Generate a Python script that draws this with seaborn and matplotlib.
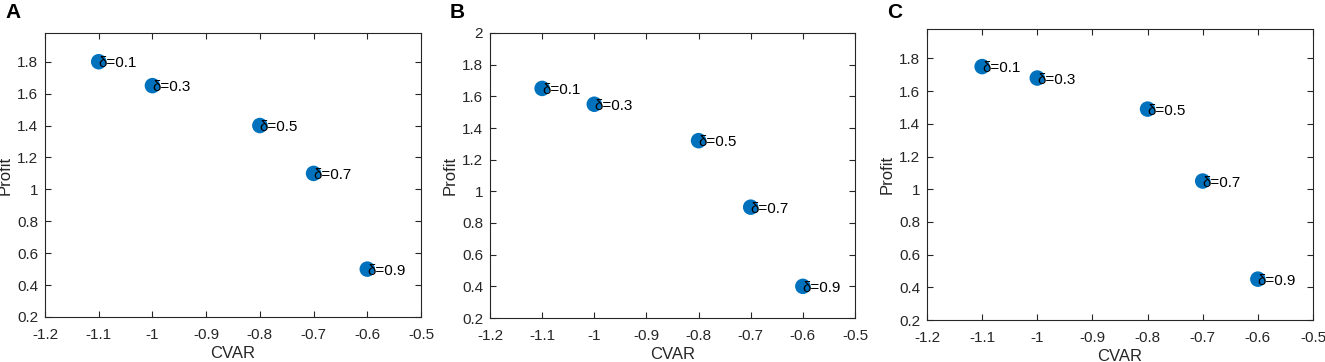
import matplotlib
matplotlib.use("Agg")
import matplotlib.pyplot as plt
import seaborn as sns
import pandas as pd

sns.set_theme(style="white")
plt.rcParams['font.family'] = ['Liberation Sans', 'DejaVu Sans']

cvar = [-1.1, -1.0, -0.8, -0.7, -0.6]
deltas = ["δ=0.1", "δ=0.3", "δ=0.5", "δ=0.7", "δ=0.9"]
profit_a = [1.80, 1.65, 1.40, 1.10, 0.50]
profit_b = [1.65, 1.55, 1.32, 0.90, 0.40]
profit_c = [1.75, 1.68, 1.49, 1.05, 0.45]
panel_labels = ["A", "B", "C"]
xticks = [-1.2, -1.1, -1.0, -0.9, -0.8, -0.7, -0.6, -0.5]
xticklabels = ["-1.2", "-1.1", "-1", "-0.9", "-0.8", "-0.7", "-0.6", "-0.5"]

W, H = 1325, 362
fig = plt.figure(figsize=(W / 100, H / 100), dpi=100)

# axes rectangles in pixels (left, top, right, bottom)
rects = [(45, 33, 421, 317), (490, 33, 855, 318), (927, 29, 1313, 320)]
ylims = [(0.2, 1.98), (0.2, 2.0), (0.2, 1.98)]
series = [profit_a, profit_b, profit_c]
blue = "#0072BD"

for (l, t, r, b), ylim, prof, lab in zip(rects, ylims, series, panel_labels):
    ax = fig.add_axes([l / W, 1 - b / H, (r - l) / W, (b - t) / H])
    df = pd.DataFrame({"CVAR": cvar, "Profit": prof, "label": deltas})
    sns.scatterplot(data=df, x="CVAR", y="Profit", ax=ax, color=blue,
                    s=125, edgecolor="none", zorder=3)
    for x, y, txt in zip(df["CVAR"], df["Profit"], df["label"]):
        ax.text(x, y - 0.01, txt, fontsize=11, ha="left", va="center",
                color="black", zorder=4)
    ax.set_xlim(-1.2, -0.5)
    ax.set_ylim(*ylim)
    ax.set_xticks(xticks)
    ax.set_xticklabels(xticklabels)
    yt = [0.2, 0.4, 0.6, 0.8, 1.0, 1.2, 1.4, 1.6, 1.8] + ([2.0] if ylim[1] >= 2.0 else [])
    ax.set_yticks(yt)
    ax.set_yticklabels(["%g" % v for v in yt])
    ax.tick_params(direction="in", length=4, width=0.8, colors="#262626",
                   labelsize=11, top=True, right=True, bottom=True, left=True,
                   labelcolor="#262626")
    ax.tick_params(axis="x", pad=8)
    ax.tick_params(axis="y", pad=5)
    for sp in ax.spines.values():
        sp.set_color("#262626")
        sp.set_linewidth(0.8)
    ax.set_xlabel("CVAR", fontsize=12, color="#262626", labelpad=3)
    ax.set_ylabel("Profit", fontsize=12, color="#262626", labelpad=3)
    fig.text((l - 40) / W, 1 - 12 / H, lab, fontsize=15, fontweight="bold",
             ha="left", va="center", color="black")

fig.savefig("out.png", dpi=100, facecolor="white")
